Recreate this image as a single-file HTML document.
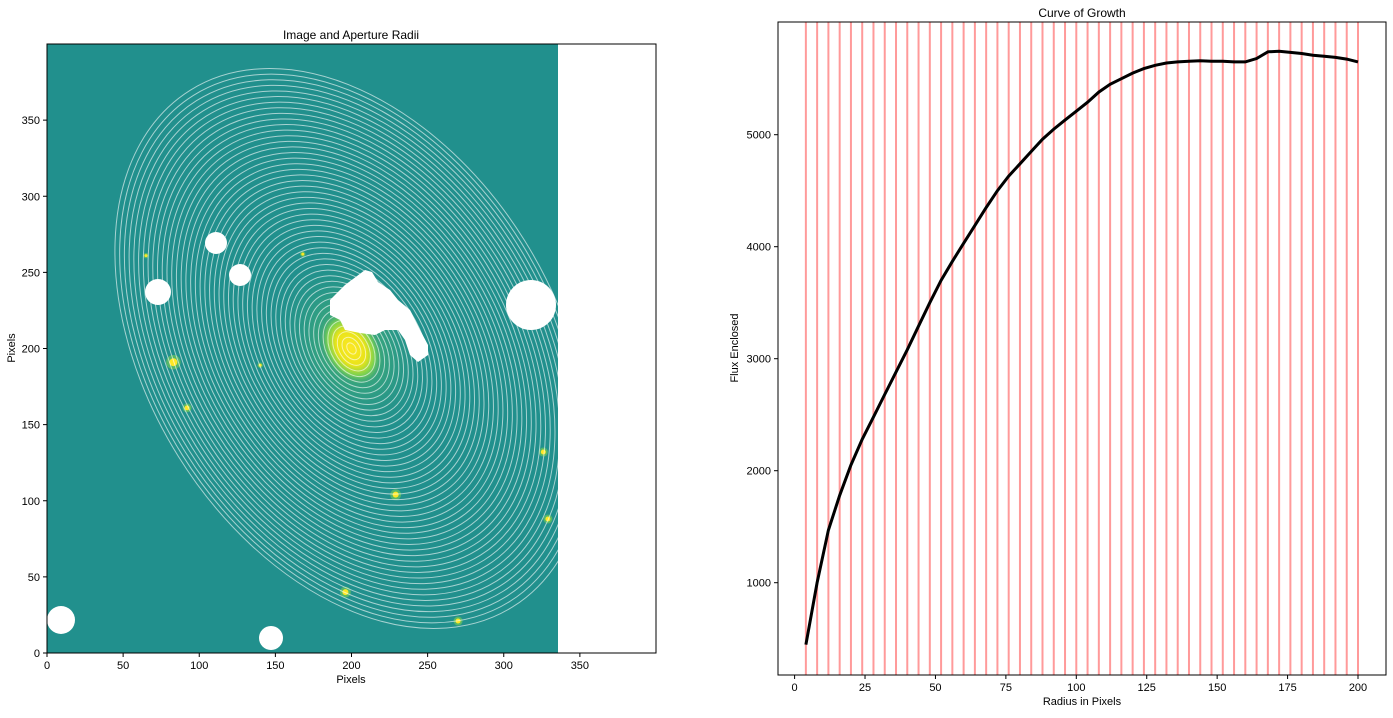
<!DOCTYPE html>
<html><head><meta charset="utf-8"><style>
body{margin:0;background:#fff;font-family:"Liberation Sans",sans-serif;}
svg text{font-family:"Liberation Sans",sans-serif;fill:#000;}
</style></head><body>
<svg id="fig" width="1393" height="713" xmlns="http://www.w3.org/2000/svg">
<defs>
<radialGradient id="glow" cx="0.5" cy="0.5" r="0.5">
<stop offset="0" stop-color="#fde725"/><stop offset="0.45" stop-color="#e8e419"/><stop offset="0.7" stop-color="#7ad151"/><stop offset="1" stop-color="#21908d" stop-opacity="0"/>
</radialGradient>
<radialGradient id="halo" cx="0.5" cy="0.5" r="0.5">
<stop offset="0" stop-color="#5ec962" stop-opacity="0.9"/><stop offset="1" stop-color="#21908d" stop-opacity="0"/>
</radialGradient>
<clipPath id="imgclip"><rect x="47" y="44" width="511" height="609"/></clipPath>
</defs>
<g id="left">
<text x="351" y="39" text-anchor="middle" font-size="12">Image and Aperture Radii</text>
<rect x="47" y="44" width="511" height="609" fill="#21908d"/>
<g clip-path="url(#imgclip)">
<ellipse cx="351" cy="348" rx="100" ry="75" transform="rotate(58 351 348)" fill="url(#halo)"/>
<ellipse cx="351" cy="348" rx="42" ry="30" transform="rotate(58 351 348)" fill="url(#glow)"/>
<g id="stars"></g>
<g id="apertures"></g>
<g fill="#fff">
<polygon points="330,300 345,285 365,270 372,272 378,282 390,290 398,300 410,310 420,330 428,345 428,355 418,362 410,355 405,340 398,330 385,330 375,335 360,333 345,330 340,320 330,315"/>
<circle cx="216" cy="243" r="11"/><circle cx="240" cy="275" r="11"/><circle cx="158" cy="292" r="13"/>
<circle cx="531" cy="305" r="25"/><circle cx="61" cy="620" r="14"/><circle cx="271" cy="638" r="12"/>
</g>
</g>
<rect x="47" y="44" width="609" height="609" fill="none" stroke="#000" stroke-width="1"/>
<g id="lxt"></g>
<g id="lyt"></g>
<text x="351" y="683" text-anchor="middle" font-size="11">Pixels</text>
<text x="15" y="348" text-anchor="middle" font-size="11" transform="rotate(-90 15 348)">Pixels</text>
</g>
<g id="right">
<text x="1082" y="17" text-anchor="middle" font-size="12">Curve of Growth</text>
<g id="vlines"></g>
<path id="curve" fill="none" stroke="#000" stroke-width="3"/>
<rect x="778" y="22" width="608" height="653" fill="none" stroke="#000" stroke-width="1"/>
<g id="rxt"></g>
<g id="ryt"></g>
<text x="1082" y="705" text-anchor="middle" font-size="11">Radius in Pixels</text>
<text x="738" y="348" text-anchor="middle" font-size="11" transform="rotate(-90 738 348)">Flux Enclosed</text>
</g>
</svg>
<script>
const radii=[4,8,12,16,20,24,28,32,36,40,44,48,52,56,60,64,68,72,76,80,84,88,92,96,100,104,108,112,116,120,124,128,132,136,140,144,148,152,156,160,164,168,172,176,180,184,188,192,196,200];
const flux=[447,1000,1470,1780,2050,2280,2480,2680,2880,3080,3290,3500,3700,3870,4030,4190,4350,4500,4630,4740,4850,4960,5050,5130,5210,5290,5380,5450,5500,5550,5590,5620,5640,5650,5655,5660,5655,5655,5650,5650,5680,5740,5745,5735,5725,5710,5700,5690,5675,5650];
const rxTicks=[0,25,50,75,100,125,150,175,200];
const ryTicks=[1000,2000,3000,4000,5000];
const pxTicks=[0,50,100,150,200,250,300,350];
const stars=[[83,191,4],[92,161,2.5],[229,104,3],[196,40,3],[329,88,2.5],[326,132,2.5],[270,21,2.5],[140,189,1.5],[168,262,1.5],[65,261,1.5]];
const NS="http://www.w3.org/2000/svg";
function mk(t,a,p){const e=document.createElementNS(NS,t);for(const k in a)e.setAttribute(k,a[k]);p.appendChild(e);return e;}
const ix=v=>47+v*1.5225, iy=v=>653-v*1.5225;
const rx=v=>794.6+v*2.817, ry=v=>582.7-(v-1000)*0.112;
const ap=document.getElementById('apertures');
radii.forEach(a=>{const e=mk('ellipse',{cx:ix(200),cy:iy(200),rx:a*1.5225,ry:a*0.67*1.5225,transform:`rotate(58 ${ix(200)} ${iy(200)})`,fill:'none',stroke:'#fff','stroke-opacity':0.6,'stroke-width':1},ap);

});
const st=document.getElementById('stars');
stars.forEach(s=>{mk('circle',{cx:ix(s[0]),cy:iy(s[1]),r:s[2]*1.8,fill:'#7ad151',opacity:0.6},st);
const c=mk('circle',{cx:ix(s[0]),cy:iy(s[1]),r:s[2],fill:'#fde725'},st);

});
const lxt=document.getElementById('lxt'),lyt=document.getElementById('lyt');
pxTicks.forEach(v=>{mk('line',{x1:ix(v),x2:ix(v),y1:653,y2:657,stroke:'#000'},lxt);
const t=mk('text',{x:ix(v),y:669,'text-anchor':'middle','font-size':11},lxt);t.textContent=v;
mk('line',{x1:43,x2:47,y1:iy(v),y2:iy(v),stroke:'#000'},lyt);
const u=mk('text',{x:40,y:iy(v)+4,'text-anchor':'end','font-size':11},lyt);u.textContent=v;});
const vl=document.getElementById('vlines');
radii.forEach(r=>{const l=mk('line',{x1:rx(r),x2:rx(r),y1:22,y2:675,stroke:'#ff9a9a','stroke-width':2},vl);

});
document.getElementById('curve').setAttribute('d',radii.map((r,i)=>(i?'L':'M')+rx(r).toFixed(1)+','+ry(flux[i]).toFixed(1)).join(''));
const rxt=document.getElementById('rxt'),ryt=document.getElementById('ryt');
rxTicks.forEach(v=>{mk('line',{x1:rx(v),x2:rx(v),y1:675,y2:679,stroke:'#000'},rxt);
const t=mk('text',{x:rx(v),y:691,'text-anchor':'middle','font-size':11},rxt);t.textContent=v;});
ryTicks.forEach(v=>{mk('line',{x1:774,x2:778,y1:ry(v),y2:ry(v),stroke:'#000'},ryt);
const t=mk('text',{x:771,y:ry(v)+4,'text-anchor':'end','font-size':11},ryt);t.textContent=v;});
</script>
</body></html>
